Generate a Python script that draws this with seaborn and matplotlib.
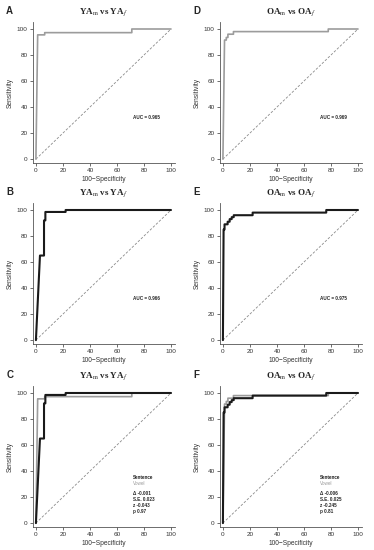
import matplotlib
matplotlib.use("Agg")
import matplotlib.pyplot as plt
import seaborn as sns
import pandas as pd

sns.set_style("ticks")
plt.rcParams["font.family"] = ["Liberation Sans", "DejaVu Sans"]
plt.rcParams["mathtext.fontset"] = "stix"

# ROC vertices (100-Specificity, Sensitivity)
ya_vowel_x = [0, 1.3, 6.5, 6.5, 71, 71, 100]
ya_vowel_y = [0, 95.5, 95.5, 97.2, 97.2, 100, 100]
ya_sent_x = [0, 3, 6, 6, 7, 7, 22, 22, 100]
ya_sent_y = [0, 65, 65, 92, 92, 98.5, 98.5, 100, 100]
oa_vowel_x = [0, 1.2, 2.5, 2.5, 3.7, 3.7, 7.8, 7.8, 78, 78, 100]
oa_vowel_y = [0, 91.5, 91.5, 93.5, 93.5, 96, 96, 98, 98, 100, 100]
oa_sent_x = [0, 0.5, 1.2, 1.2, 3.5, 3.5, 5, 5, 6.5, 6.5, 8, 8, 22, 22, 76.5, 76.5, 100]
oa_sent_y = [0, 85, 85, 89, 89, 91, 91, 93, 93, 94.5, 94.5, 96, 96, 98, 98, 100, 100]

auc_values = {"A": "0.965", "B": "0.966", "D": "0.969", "E": "0.975"}
stats_C = ["\u0394 -0.001", "S.E. 0.023", "z -0.043", "p 0.97"]
stats_F = ["\u0394 -0.006", "S.E. 0.025", "z -0.245", "p 0.81"]

title_ya = r"YA$_\mathrm{m}$ vs YA$_{f}$"
title_oa = r"OA$_\mathrm{m}$ vs OA$_{f}$"

vowel_color = "#9c9c9c"
sent_color = "#1a1a1a"

fig = plt.figure(figsize=(3.74, 5.5), dpi=100)
lefts = [0.087, 0.587]
bottoms = [0.7036, 0.3745, 0.0418]
w, h = 0.381, 0.2555

panels = {
    "A": (0, 0, title_ya, [("v", ya_vowel_x, ya_vowel_y)]),
    "B": (0, 1, title_ya, [("s", ya_sent_x, ya_sent_y)]),
    "C": (0, 2, title_ya, [("v", ya_vowel_x, ya_vowel_y), ("s", ya_sent_x, ya_sent_y)]),
    "D": (1, 0, title_oa, [("v", oa_vowel_x, oa_vowel_y)]),
    "E": (1, 1, title_oa, [("s", oa_sent_x, oa_sent_y)]),
    "F": (1, 2, title_oa, [("v", oa_vowel_x, oa_vowel_y), ("s", oa_sent_x, oa_sent_y)]),
}

for letter, (col, row, title, curves) in panels.items():
    ax = fig.add_axes([lefts[col], bottoms[row], w, h])
    ax.plot([0, 100], [0, 100], ls=(0, (3, 2)), color="#8a8a8a", lw=0.6)
    for kind, xs, ys in curves:
        df = pd.DataFrame({"x": xs, "y": ys})
        if kind == "v":
            sns.lineplot(data=df, x="x", y="y", sort=False, estimator=None,
                         color=vowel_color, lw=1.2, ax=ax)
        else:
            sns.lineplot(data=df, x="x", y="y", sort=False, estimator=None,
                         color=sent_color, lw=1.5, ax=ax)
    ax.set_xlim(-2.5, 103)
    ax.set_ylim(-3, 105)
    ax.set_xticks([0, 20, 40, 60, 80, 100])
    ax.set_yticks([0, 20, 40, 60, 80, 100])
    ax.tick_params(labelsize=4.6, length=2, width=0.5, pad=1.5, colors="#333333")
    for s in ["left", "bottom"]:
        ax.spines[s].set_linewidth(0.6)
        ax.spines[s].set_color("#555555")
    sns.despine(ax=ax)
    ax.set_xlabel("100\u2212Specificity", fontsize=4.8, labelpad=2, color="#333333")
    ax.set_ylabel("Sensitivity", fontsize=4.8, labelpad=2, color="#333333")
    ax.set_title(title, fontsize=6.5, family="Liberation Serif", fontweight="bold", pad=6)
    ax.text(-0.16, 1.082, letter, transform=ax.transAxes, fontsize=7,
            fontweight="bold", ha="center", va="center")
    if letter in auc_values:
        ax.text(72, 31, "AUC = " + auc_values[letter], fontsize=3.3, fontweight="bold")
    if letter in ("C", "F"):
        stats = stats_C if letter == "C" else stats_F
        ax.text(72, 35, "Sentence", fontsize=3.3, fontweight="bold", color=sent_color, va="center")
        ax.text(72, 30.5, "Vowel", fontsize=3.3, color=vowel_color, va="center")
        for i, s in enumerate(stats):
            ax.text(72, 23 - i * 4.6, s, fontsize=3.3, fontweight="bold", va="center")

fig.savefig("out.png", dpi=100)
